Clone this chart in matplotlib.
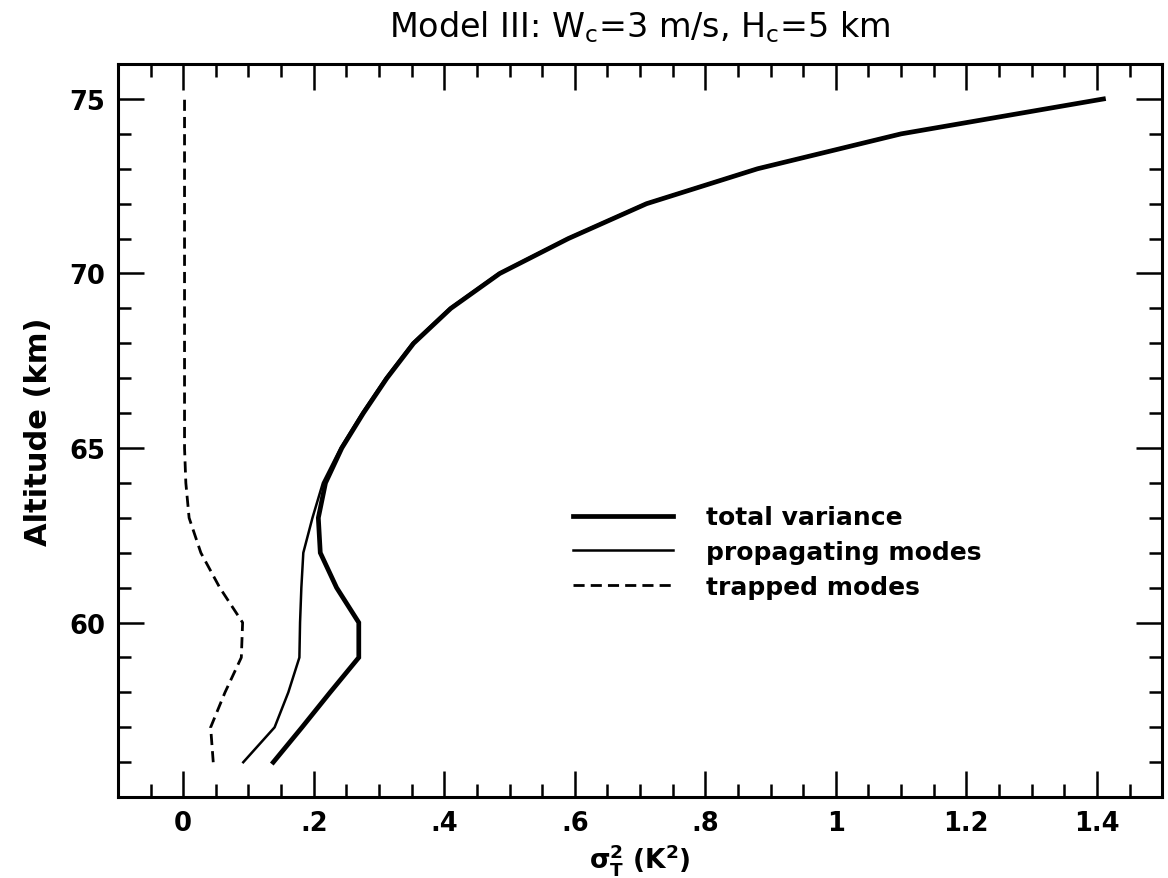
import matplotlib
matplotlib.use('Agg')
import matplotlib.pyplot as plt
from matplotlib.ticker import FixedLocator, MultipleLocator

plt.rcParams['font.family'] = ['DejaVu Sans']
plt.rcParams['mathtext.default'] = 'regular'

# altitude levels (km)
altitude = [56, 57, 58, 59, 60, 61, 62, 63, 64, 65, 66, 67, 68, 69, 70, 71, 72, 73, 74, 75]

# temperature variance (K^2)
total_var = [0.138, 0.182, 0.225, 0.269, 0.269, 0.235, 0.210, 0.207, 0.218, 0.243,
             0.276, 0.312, 0.353, 0.410, 0.485, 0.590, 0.710, 0.880, 1.100, 1.410]
propagating = [0.092, 0.140, 0.161, 0.178, 0.179, 0.181, 0.184, 0.198, 0.214, 0.241,
               0.274, 0.310, 0.351, 0.408, 0.483, 0.588, 0.708, 0.878, 1.098, 1.408]
trapped = [0.046, 0.042, 0.064, 0.089, 0.091, 0.056, 0.027, 0.009, 0.004, 0.002,
           0.002, 0.002, 0.002, 0.002, 0.002, 0.002, 0.002, 0.002, 0.002, 0.002]

xticks = [0, 0.2, 0.4, 0.6, 0.8, 1.0, 1.2, 1.4]
xticklabels = ['0', '.2', '.4', '.6', '.8', '1', '1.2', '1.4']
yticks = [60, 65, 70, 75]

fig = plt.figure(figsize=(11.68, 8.79), dpi=100)
ax = fig.add_axes([0.101, 0.092, 0.894, 0.834])

ax.plot(total_var, altitude, color='black', lw=3.4, label='total variance',
        solid_joinstyle='miter')
ax.plot(propagating, altitude, color='black', lw=1.8, label='propagating modes')
ax.plot(trapped, altitude, color='black', lw=2.0, ls=(0, (4, 2.2)), label='trapped modes')

ax.set_xlim(-0.1, 1.5)
ax.set_ylim(55, 76)

ax.xaxis.set_major_locator(FixedLocator(xticks))
ax.set_xticklabels(xticklabels)
ax.xaxis.set_minor_locator(MultipleLocator(0.05))
ax.yaxis.set_major_locator(FixedLocator(yticks))
ax.yaxis.set_minor_locator(MultipleLocator(1))

ax.tick_params(which='both', direction='in', top=True, right=True, width=1.8)
ax.tick_params(which='major', length=19, labelsize=18.5, pad=9)
ax.tick_params(which='minor', length=9.5)
for lab in ax.get_xticklabels() + ax.get_yticklabels():
    lab.set_fontweight('bold')
for s in ax.spines.values():
    s.set_linewidth(2.2)

ax.set_title(r'Model III: W$_c$=3 m/s, H$_c$=5 km', fontsize=24, pad=20)
ax.set_xlabel(r'$\mathbf{\sigma^2_T}$ (K$^\mathbf{2}$)', fontsize=19, fontweight='bold', labelpad=4)
ax.set_ylabel('Altitude (km)', fontsize=22, fontweight='bold', labelpad=12)

ax.legend(loc='upper left', bbox_to_anchor=(0.436, 0.398), frameon=False,
          prop={'size': 18, 'weight': 'bold'}, handlelength=4.0, handletextpad=1.3,
          labelspacing=0.43, borderpad=0, borderaxespad=0)

fig.savefig('out.png', dpi=100)
